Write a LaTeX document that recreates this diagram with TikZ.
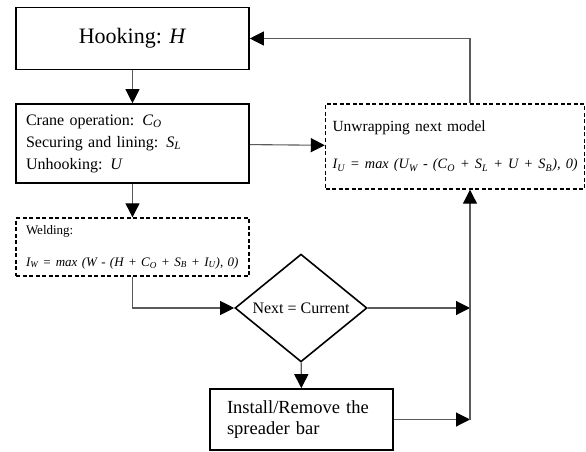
\documentclass[tikz,border=0pt]{standalone}
\usepackage{fontspec}
\setmainfont{Liberation Serif}
\usetikzlibrary{arrows.meta,shapes.geometric,positioning}
\definecolor{wire}{HTML}{5A5A5A}
\tikzset{
  solidBox/.style={draw=black, line width=1.6pt, inner sep=0pt},
  dashBox/.style={draw=black, line width=1.4pt, dash pattern=on 4pt off 2.5pt, inner sep=0pt},
  decBox/.style={draw=black, line width=1.6pt, diamond, inner sep=0pt},
  wire/.style={draw=wire, line width=1.1pt, -{Triangle[length=14pt,width=14pt,black]}},
  plainWire/.style={draw=wire, line width=1.1pt},
}
\newcommand{\idx}[1]{\textsubscript{#1}}
\newcommand{\fsz}[2]{\fontsize{#1}{#2}\selectfont}

\begin{document}
\begin{tikzpicture}[x=1pt, y=-1pt]
  \useasboundingbox (0,0) rectangle (586,452);
  \coordinate (bus) at (470,0);

  % left column
  \node[solidBox, minimum width=233pt, minimum height=62pt, font=\fsz{22}{26}]
    (hook) at (132.5,38.5) {Hooking: \textit{H}};
  \node[solidBox, minimum width=233pt, minimum height=79pt, text width=213pt,
    align=left, font=\fsz{16}{22}]
    (ops) at (132.5,143.5) {Crane operation: \textit{C\idx{O}}\\
      Securing and lining: \textit{S\idx{L}}\\
      Unhooking: \textit{U}};
  \node[dashBox, minimum width=233pt, minimum height=58pt, text width=213pt,
    align=left, font=\fsz{13}{16}]
    (weld) at (132.5,247) {Welding:\\[16pt]
      \mbox{\textit{I\idx{W} = max (W - (H + C\idx{O} + S\idx{B} + I\idx{U}), 0)}}};

  % right side
  \node[dashBox, minimum width=259pt, minimum height=85pt, text width=245pt,
    align=left, font=\fsz{15.5}{18}]
    (unwrap) at (455,146.5) {Unwrapping next model\\[19pt]
      \mbox{\fsz{14.3}{18}\textit{I\idx{U} = max (U\idx{W} - (C\idx{O} + S\idx{L} + U + S\idx{B}), 0)}}};
  \node[decBox, minimum width=132pt, minimum height=95pt, font=\fsz{16}{18}]
    (dec) at (301,308) {Next = Current};
  \node[solidBox, minimum width=183pt, minimum height=61pt, text width=149pt,
    align=left, font=\fsz{18.5}{21}]
    (inst) at (301.5,419.5) {Install/Remove the\\ spreader bar};

  % connectors
  \draw[wire] (hook) -- (ops);
  \draw[wire] (ops) -- (weld);
  \draw[wire] (weld.south) |- (dec.west);
  \draw[wire] (dec) -- (inst);
  \draw[wire] (ops) -- (unwrap);
  \draw[wire] (dec.east) -- (dec -| bus);
  \draw[wire] (inst.east) -- (inst -| bus);
  \draw[wire] (inst -| bus) -- (unwrap.south -| bus);
  \draw[wire] (unwrap.north -| bus) |- (hook.east);
\end{tikzpicture}
\end{document}
